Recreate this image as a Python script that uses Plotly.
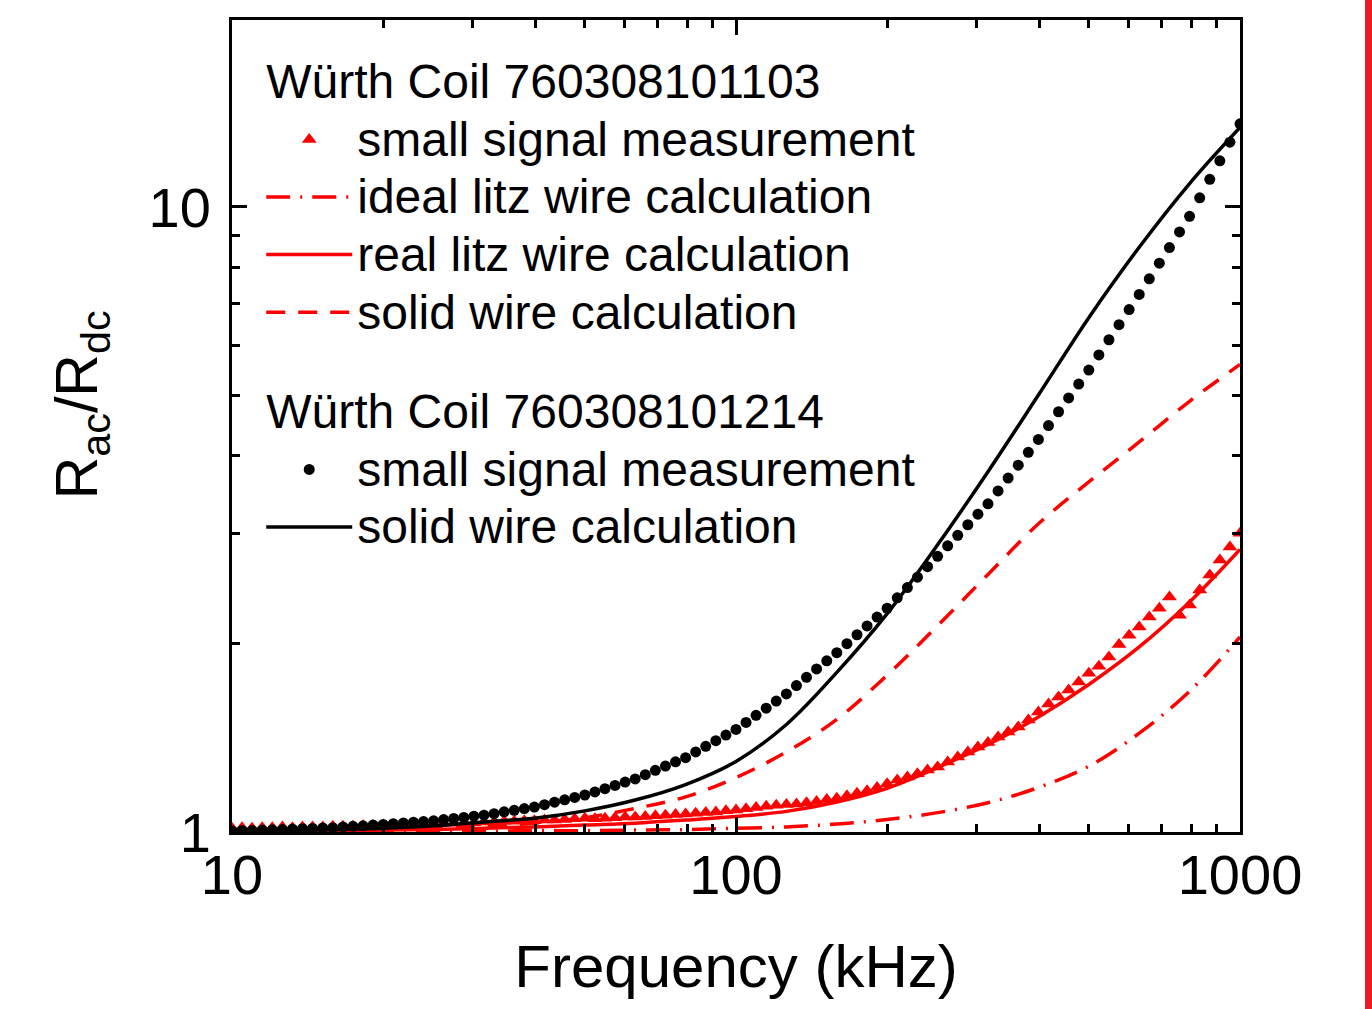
import plotly.graph_objects as go

# ---------------- data ----------------
# measurement sweep frequencies in kHz (shared by both small-signal measurements)
freq_meas_khz = [
    10.0, 10.47, 10.96, 11.48, 12.02, 12.59, 13.18, 13.80, 14.45, 15.14,
    15.85, 16.60, 17.38, 18.20, 19.05, 19.95, 20.89, 21.88, 22.91, 23.99,
    25.12, 26.30, 27.54, 28.84, 30.20, 31.62, 33.11, 34.67, 36.31, 38.02,
    39.81, 41.69, 43.65, 45.71, 47.86, 50.12, 52.48, 54.95, 57.54, 60.26,
    63.10, 66.07, 69.18, 72.44, 75.86, 79.43, 83.18, 87.10, 91.20, 95.50,
    100.0, 104.7, 109.6, 114.8, 120.2, 125.9, 131.8, 138.0, 144.5, 151.4,
    158.5, 166.0, 173.8, 182.0, 190.5, 199.5, 208.9, 218.8, 229.1, 239.9,
    251.2, 263.0, 275.4, 288.4, 302.0, 316.2, 331.1, 346.7, 363.1, 380.2,
    398.1, 416.9, 436.5, 457.1, 478.6, 501.2, 524.8, 549.5, 575.4, 602.6,
    631.0, 660.7, 691.8, 724.4, 758.6, 794.3, 831.8, 871.0, 912.0, 955.0,
    1000.0,
]

# Würth Coil 760308101103 - small signal measurement (Rac/Rdc)
coil103_meas = [
    1.014, 1.016, 1.014, 1.016, 1.016, 1.019, 1.016, 1.019, 1.019, 1.019,
    1.021, 1.021, 1.021, 1.023, 1.023, 1.026, 1.026, 1.028, 1.028, 1.030,
    1.030, 1.033, 1.033, 1.035, 1.035, 1.038, 1.038, 1.040, 1.040, 1.042,
    1.042, 1.045, 1.045, 1.047, 1.050, 1.052, 1.050, 1.052, 1.054, 1.057,
    1.057, 1.059, 1.062, 1.064, 1.067, 1.069, 1.072, 1.074, 1.076, 1.081,
    1.084, 1.089, 1.094, 1.099, 1.104, 1.107, 1.109, 1.114, 1.119, 1.127,
    1.132, 1.143, 1.153, 1.164, 1.178, 1.194, 1.211, 1.225, 1.239, 1.256,
    1.271, 1.294, 1.318, 1.343, 1.368, 1.390, 1.419, 1.445, 1.472, 1.510,
    1.556, 1.603, 1.644, 1.687, 1.738, 1.795, 1.841, 1.905, 1.995, 2.065,
    2.128, 2.208, 2.280, 2.377, 2.223, 2.307, 2.438, 2.576, 2.723, 2.858,
    3.006,
]

# Würth Coil 760308101214 - small signal measurement (Rac/Rdc)
coil214_meas = [
    1.005, 1.006, 1.006, 1.007, 1.008, 1.009, 1.011, 1.012, 1.013, 1.015,
    1.016, 1.019, 1.021, 1.023, 1.026, 1.028, 1.031, 1.034, 1.037, 1.039,
    1.042, 1.047, 1.051, 1.055, 1.060, 1.064, 1.070, 1.077, 1.083, 1.090,
    1.096, 1.106, 1.116, 1.126, 1.136, 1.146, 1.159, 1.173, 1.187, 1.202,
    1.216, 1.235, 1.255, 1.275, 1.295, 1.315, 1.343, 1.371, 1.400, 1.429,
    1.459, 1.497, 1.537, 1.578, 1.620, 1.663, 1.715, 1.768, 1.823, 1.879,
    1.936, 2.001, 2.068, 2.136, 2.207, 2.280, 2.369, 2.461, 2.557, 2.657,
    2.761, 2.870, 2.983, 3.101, 3.224, 3.350, 3.513, 3.683, 3.862, 4.049,
    4.246, 4.468, 4.702, 4.948, 5.207, 5.483, 5.797, 6.130, 6.481, 6.852,
    7.244, 7.674, 8.128, 8.610, 9.120, 9.661, 10.34, 11.07, 11.85, 12.69,
    13.58,
]

# calculation frequencies in kHz
freq_calc_khz = [10.0, 12.59, 15.85, 19.95, 25.12, 31.62, 39.81, 50.12, 63.10, 79.43,
                 100.0, 125.9, 158.5, 199.5, 251.2, 316.2, 398.1, 501.2, 631.0, 794.3, 1000.0]

coil103_ideal_litz = [1.000, 1.000, 1.000, 1.002, 1.002, 1.002, 1.005, 1.005, 1.007, 1.009,
                      1.014, 1.019, 1.030, 1.047, 1.074, 1.114, 1.178, 1.274, 1.439, 1.679, 2.051]
coil103_real_litz = [1.000, 1.002, 1.005, 1.007, 1.009, 1.014, 1.019, 1.026, 1.033, 1.045,
                     1.059, 1.079, 1.117, 1.175, 1.268, 1.380, 1.528, 1.722, 1.977, 2.333, 2.831]
coil103_solid = [1.000, 1.002, 1.005, 1.009, 1.014, 1.021, 1.033, 1.054, 1.091, 1.138,
                 1.222, 1.343, 1.514, 1.782, 2.138, 2.582, 3.112, 3.631, 4.207, 4.887, 5.598]
coil214_solid = [1.000, 1.005, 1.009, 1.014, 1.023, 1.038, 1.052, 1.081, 1.125, 1.191,
                 1.297, 1.486, 1.800, 2.235, 2.880, 3.770, 5.000, 6.650, 8.620, 10.90, 13.40]

x_major = [10, 100, 1000]
x_major_text = ["10", "100", "1000"]
x_minor = [20, 30, 40, 50, 60, 70, 80, 90, 200, 300, 400, 500, 600, 700, 800, 900]
y_major = [1, 10]
y_major_text = ["1", "10"]
y_minor = [2, 3, 4, 5, 6, 7, 8, 9]

group1_title = "Würth Coil 760308101103"
group2_title = "Würth Coil 760308101214"
label_meas = "small signal measurement"
label_ideal = "ideal litz wire calculation"
label_real = "real litz wire calculation"
label_solid = "solid wire calculation"
y_title = "R<sub>ac</sub>/R<sub>dc</sub>"
x_title = "Frequency (kHz)"

# ---------------- figure ----------------
FONT = "Liberation Sans, Arial, Helvetica, sans-serif"
RED = "#ff0000"
BLACK = "#000000"
LEG_ROW = 42      # controls legend row spacing
LEG_TXT = 48      # visible legend glyph size


def big(t):
    return '<span style="font-size:%dpx">%s</span>' % (LEG_TXT, t)


fig = go.Figure()

fig.add_trace(go.Scatter(
    x=freq_meas_khz, y=coil103_meas, mode="markers", name=big(label_meas),
    marker=dict(symbol="triangle-up", size=13, color=RED, line=dict(width=0)),
    legendgroup="c103",
    legendgrouptitle=dict(text=big(group1_title), font=dict(size=LEG_ROW, color=BLACK, family=FONT)),
))
fig.add_trace(go.Scatter(
    x=freq_calc_khz, y=coil103_ideal_litz, mode="lines", name=big(label_ideal),
    line=dict(color=RED, width=3.5, dash="24px,10px,2px,10px", shape="spline"),
    legendgroup="c103",
))
fig.add_trace(go.Scatter(
    x=freq_calc_khz, y=coil103_real_litz, mode="lines", name=big(label_real),
    line=dict(color=RED, width=3.5, shape="spline"),
    legendgroup="c103",
))
fig.add_trace(go.Scatter(
    x=freq_calc_khz, y=coil103_solid, mode="lines", name=big(label_solid),
    line=dict(color=RED, width=3.5, dash="19px,13px", shape="spline"),
    legendgroup="c103",
))
fig.add_trace(go.Scatter(
    x=freq_meas_khz, y=coil214_meas, mode="markers", name=big(label_meas),
    marker=dict(symbol="circle", size=11, color=BLACK, line=dict(width=0)),
    legendgroup="c214",
    legendgrouptitle=dict(text=big(group2_title), font=dict(size=LEG_ROW, color=BLACK, family=FONT)),
))
fig.add_trace(go.Scatter(
    x=freq_calc_khz, y=coil214_solid, mode="lines", name=big(label_solid),
    line=dict(color=BLACK, width=3.5, shape="spline"),
    legendgroup="c214",
))

axis_common = dict(
    type="log", showgrid=False, zeroline=False,
    ticks="inside", ticklen=15, tickwidth=2.5, tickcolor=BLACK,
    showline=True, linewidth=3, linecolor=BLACK, mirror="ticks",
    tickfont=dict(size=56, color=BLACK, family=FONT),
)

fig.update_layout(
    width=1372, height=1009,
    margin=dict(l=232, r=132, t=20, b=177),
    paper_bgcolor="white", plot_bgcolor="white",
    font=dict(family=FONT, color=BLACK),
    showlegend=True,
    legend=dict(
        x=0.029, y=0.9655, xanchor="left", yanchor="top",
        bgcolor="rgba(0,0,0,0)", borderwidth=0,
        font=dict(size=LEG_ROW, color=BLACK, family=FONT),
        traceorder="grouped", tracegroupgap=42, itemwidth=86,
    ),
    xaxis=dict(
        **axis_common, range=[1, 3],
        tickmode="array", tickvals=x_major, ticktext=x_major_text,
        ticklabelstandoff=-8,
        minor=dict(ticks="inside", ticklen=8, tickwidth=2.5, tickcolor=BLACK,
                   tickmode="array", tickvals=x_minor, showgrid=False),
        title=dict(text=x_title, font=dict(size=60, color=BLACK, family=FONT), standoff=40),
    ),
    yaxis=dict(
        **axis_common, range=[0, 1.299],
        tickmode="array", tickvals=y_major, ticktext=y_major_text,
        ticklabelstandoff=7,
        minor=dict(ticks="inside", ticklen=8, tickwidth=2.5, tickcolor=BLACK,
                   tickmode="array", tickvals=y_minor, showgrid=False),
    ),
    annotations=[dict(
        text=y_title, textangle=-90, xref="paper", yref="paper",
        x=-0.149, y=0.5265, xanchor="center", yanchor="middle", showarrow=False,
        font=dict(size=59, color=BLACK, family=FONT),
    )],
    shapes=[dict(type="rect", xref="paper", yref="paper",
                 x0=1.124, x1=1.131, y0=-0.22, y1=1.03,
                 fillcolor="#ed1c24", line=dict(width=0), layer="above")],
)

fig.write_html("out.html", config={"displayModeBar": False},
               post_script="document.body.style.margin='0px';")
